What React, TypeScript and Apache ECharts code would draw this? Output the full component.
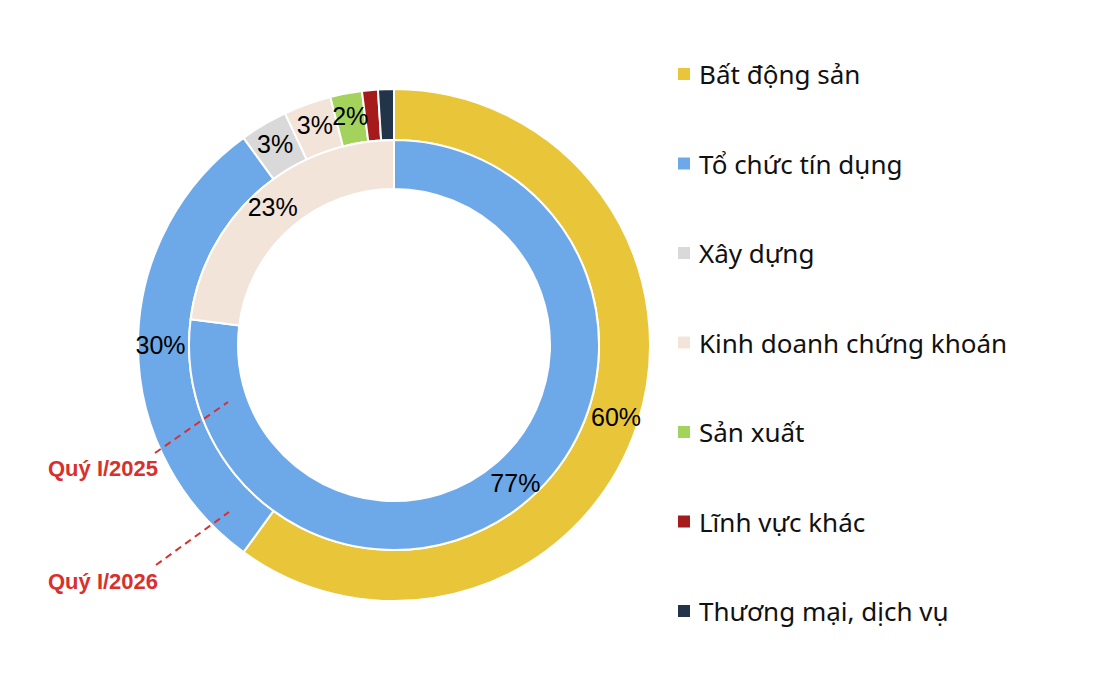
import { useEffect, useRef } from "react";
import * as echarts from "echarts";

// Ngành nghề (thứ tự theo chiều kim đồng hồ, bắt đầu từ đỉnh)
const categories = [
  "Bất động sản",
  "Tổ chức tín dụng",
  "Xây dựng",
  "Kinh doanh chứng khoán",
  "Sản xuất",
  "Lĩnh vực khác",
  "Thương mại, dịch vụ",
];
const colors = ["#E9C53A", "#6DA9E8", "#D9D9D9", "#F3E4DA", "#A3D35C", "#A51B1B", "#213449"];

// Quý I/2026 - vòng ngoài (%)
const q1y2026 = [60, 30, 3, 3, 2, 1, 1];
// Quý I/2025 - vòng trong (%)
const q1y2025 = [0, 77, 0, 23, 0, 0, 0];

const periodLabels = ["Quý I/2025", "Quý I/2026"];

const toPieData = (values: number[]) =>
  values
    .map((v, i) => ({
      name: categories[i],
      value: v,
      itemStyle: { color: colors[i] },
      label: { show: v >= 2 },
    }))
    .filter((d) => d.value > 0);

export default function App() {
  const containerRef = useRef<HTMLDivElement | null>(null);

  useEffect(() => {
    document.body.style.margin = "0";
    if (!containerRef.current) return;
    const chart = echarts.init(containerRef.current, undefined, { renderer: "svg" });

    const pctLabel = {
      position: "inside" as const,
      formatter: (p: any) => `${p.value}%`,
      color: "#000",
      fontSize: 25,
      fontFamily: "Liberation Sans, Arial, sans-serif",
      overflow: "none" as const,
    };

    const option: echarts.EChartsOption = {
      animation: false,
      backgroundColor: "#fff",
      legend: {
        orient: "vertical",
        left: 671,
        top: 54,
        icon: "rect",
        itemWidth: 14,
        itemHeight: 14,
        itemGap: 59.5,
        selectedMode: false,
        data: categories,
        textStyle: {
          fontSize: 26,
          lineHeight: 30,
          color: "#111",
          fontFamily: "Noto Sans, sans-serif",
          padding: [0, 0, 0, 3],
        },
      },
      series: [
        {
          name: periodLabels[1],
          type: "pie",
          center: [394, 345],
          radius: [205, 256],
          startAngle: 90,
          clockwise: true,
          avoidLabelOverlap: false,
          minShowLabelAngle: 0,
          labelLayout: { hideOverlap: false },
          itemStyle: { borderColor: "#fff", borderWidth: 2 },
          label: pctLabel,
          labelLine: { show: false },
          emphasis: { disabled: true },
          data: toPieData(q1y2026),
        },
        {
          name: periodLabels[0],
          type: "pie",
          center: [394, 345],
          radius: [156, 205],
          startAngle: 90,
          clockwise: true,
          avoidLabelOverlap: false,
          labelLayout: { hideOverlap: false },
          itemStyle: { borderColor: "#fff", borderWidth: 2 },
          label: pctLabel,
          labelLine: { show: false },
          emphasis: { disabled: true },
          data: toPieData(q1y2025),
        },
      ],
      graphic: [
        {
          type: "line",
          shape: { x1: 155, y1: 453, x2: 228, y2: 402 },
          style: { stroke: "#D9302C", lineWidth: 2, lineDash: [7, 5] },
          z: 10,
        },
        {
          type: "line",
          shape: { x1: 156, y1: 565, x2: 229, y2: 512 },
          style: { stroke: "#D9302C", lineWidth: 2, lineDash: [7, 5] },
          z: 10,
        },
        {
          type: "text",
          left: 48,
          top: 457,
          style: {
            text: periodLabels[0],
            fill: "#D9302C",
            font: "bold 22px 'Liberation Sans', Arial, sans-serif",
          },
          z: 10,
        },
        {
          type: "text",
          left: 48,
          top: 570,
          style: {
            text: periodLabels[1],
            fill: "#D9302C",
            font: "bold 22px 'Liberation Sans', Arial, sans-serif",
          },
          z: 10,
        },
      ],
    };

    chart.setOption(option);
    const resize = () => chart.resize();
    window.addEventListener("resize", resize);
    return () => {
      window.removeEventListener("resize", resize);
      chart.dispose();
    };
  }, []);

  return <div ref={containerRef} style={{ width: 1109, height: 685 }} />;
}
